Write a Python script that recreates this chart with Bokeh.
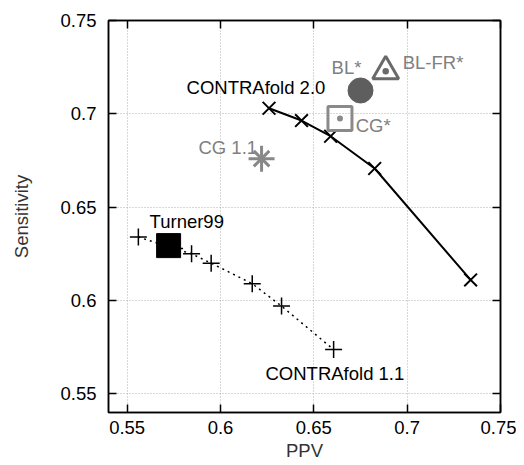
from bokeh.plotting import figure
from bokeh.models import LinearAxis, Range1d, FixedTicker, ColumnDataSource
from bokeh.core.properties import value
from bokeh.embed import file_html
from bokeh.resources import INLINE

# --- data ---
cf20_ppv = [0.626, 0.6434, 0.659, 0.6826, 0.734]
cf20_sens = [0.703, 0.6964, 0.688, 0.6707, 0.611]

cf11_ppv = [0.556, 0.5754, 0.5845, 0.595, 0.617, 0.6327, 0.6606]
cf11_sens = [0.634, 0.6278, 0.625, 0.620, 0.609, 0.597, 0.5737]

turner_ppv, turner_sens = [0.5722], [0.6294]
cg11_ppv, cg11_sens = [0.622], [0.676]
bl_ppv, bl_sens = [0.675], [0.7125]
blfr_ppv, blfr_sens = [0.6885], [0.7228]
cg_ppv, cg_sens = [0.664], [0.6975]

label_text = ["CONTRAfold 2.0", "BL*", "BL-FR*", "CG*", "CG 1.1", "Turner99", "CONTRAfold 1.1"]
label_x = [0.5818, 0.6595, 0.6976, 0.6724, 0.5882, 0.562, 0.6241]
label_y = [0.7141, 0.7248, 0.7275, 0.6937, 0.6819, 0.6423, 0.5608]
label_color = ["black", "#808080", "#808080", "#808080", "#808080", "black", "black"]

ticks = [0.55, 0.6, 0.65, 0.7, 0.75]
tick_labels = {0.55: "0.55", 0.6: "0.6", 0.65: "0.65", 0.7: "0.7", 0.75: "0.75"}

FONT = "Liberation Sans"
FS = "18.5px"

p = figure(frame_width=392, frame_height=392, output_backend="svg", toolbar_location=None,
           x_range=Range1d(0.54, 0.75), y_range=Range1d(0.54, 0.75),
           min_border_left=108, min_border_top=20, min_border_right=16, min_border_bottom=10,
           x_axis_label="PPV", y_axis_label="Sensitivity")

p.outline_line_color = "black"
p.outline_line_width = 1.5
p.background_fill_color = "white"
p.border_fill_color = "white"

for ax in (p.xaxis[0], p.yaxis[0]):
    ax.ticker = FixedTicker(ticks=ticks)
    ax.major_label_overrides = tick_labels
    ax.major_tick_in = 8
    ax.major_tick_out = 0
    ax.minor_tick_in = 0
    ax.minor_tick_out = 0
    ax.major_tick_line_width = 1.5
    ax.axis_line_width = 1.5
    ax.major_label_text_font = FONT
    ax.major_label_text_font_size = FS
    ax.major_label_text_color = "black"
    ax.axis_label_text_font = FONT
    ax.axis_label_text_font_size = FS
    ax.axis_label_text_font_style = "normal"
    ax.axis_label_text_color = "#333333"

p.xaxis[0].major_label_standoff = 8
p.xaxis[0].axis_label_standoff = 3
p.yaxis[0].major_label_standoff = 12
p.yaxis[0].axis_label_standoff = 25

for loc in ("above", "right"):
    ax = LinearAxis(ticker=FixedTicker(ticks=ticks))
    ax.major_tick_in = 8
    ax.major_tick_out = 0
    ax.minor_tick_in = 0
    ax.minor_tick_out = 0
    ax.major_tick_line_width = 1.5
    ax.axis_line_width = 1.5
    ax.major_label_text_color = None
    ax.major_label_standoff = 0
    p.add_layout(ax, loc)

for g in (p.xgrid[0], p.ygrid[0]):
    g.ticker = FixedTicker(ticks=ticks)
    g.grid_line_color = "#b0b0b0"
    g.grid_line_dash = "1 2"
    g.grid_line_width = 1

# labels (drawn beneath the marks, as in the reference)
src = ColumnDataSource(dict(x=label_x, y=label_y, t=label_text, c=label_color))
p.text(x="x", y="y", text="t", text_color="c", source=src, text_font=value(FONT),
       text_font_size=FS, text_baseline="middle", text_align="left")

# CONTRAfold 2.0
p.line(cf20_ppv, cf20_sens, line_color="black", line_width=2)
p.scatter(cf20_ppv, cf20_sens, marker="x", size=18, line_color="black", line_width=2)

# CONTRAfold 1.1
p.line(cf11_ppv, cf11_sens, line_color="black", line_width=1.5, line_dash="2 4")
p.scatter(cf11_ppv, cf11_sens, marker="cross", size=17, line_color="black", line_width=1.5)

# Turner99
p.scatter(turner_ppv, turner_sens, marker="square", size=24, fill_color="black", line_color="black")

# CG 1.1
p.scatter(cg11_ppv, cg11_sens, marker="cross", size=26, line_color="#888888", line_width=3)
p.scatter(cg11_ppv, cg11_sens, marker="x", size=22, line_color="#888888", line_width=3)

# BL*
p.scatter(bl_ppv, bl_sens, marker="circle", size=25, fill_color="#5e5e5e", line_color="#5e5e5e")

# BL-FR*
p.scatter(blfr_ppv, blfr_sens, marker="triangle_dot", size=26, fill_color=None,
          line_color="#6a6a6a", line_width=3)

# CG*
p.scatter(cg_ppv, cg_sens, marker="square_dot", size=24, fill_color=None,
          line_color="#8a8a8a", line_width=3)

open("out.html", "w").write(file_html(p, INLINE))
